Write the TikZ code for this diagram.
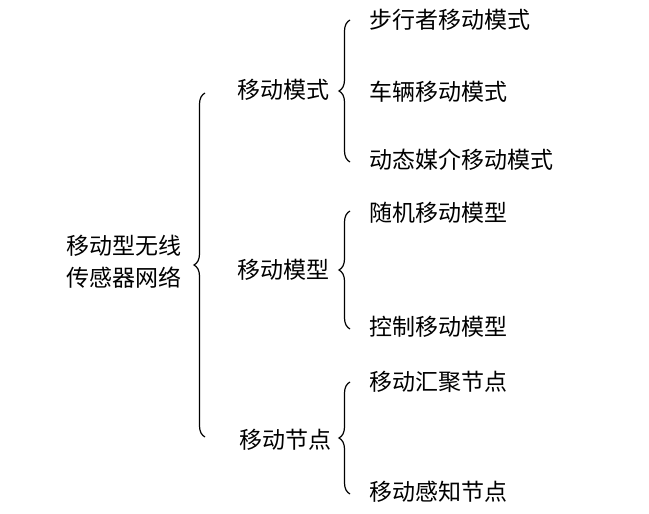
\documentclass[tikz,border=0pt]{standalone}
\usepackage{fontspec}
\setmainfont{Noto Sans CJK SC}
\usetikzlibrary{decorations.pathreplacing}
\begin{document}
\begin{tikzpicture}[x=0.5pt,y=-0.5pt,
  label/.style={font=\fontsize{11.5}{16}\selectfont, align=left, inner sep=1pt},
  leaf/.style={label, anchor=west},
  bracket/.style={decorate, decoration={brace, amplitude=5.5pt}, semithick}]
  \useasboundingbox (0,0) rectangle (649,514);
  % root
  \node [label] (root) at (124,262) {移动型无线\\传感器网络};
  % level 1
  \node [leaf] (mode) at (235,90) {移动模式};
  \node [leaf] (model) at (235,270) {移动模型};
  \node [leaf] (sensor) at (237,440) {移动节点};
  % leaves
  \node [leaf] (walk) at (367,20) {步行者移动模式};
  \node [leaf] (car) at (367,92) {车辆移动模式};
  \node [leaf] (media) at (367,160) {动态媒介移动模式};
  \node [leaf] (rand) at (367,213) {随机移动模型};
  \node [leaf] (ctrl) at (367,327) {控制移动模型};
  \node [leaf] (sink) at (367,382) {移动汇聚节点};
  \node [leaf] (sense) at (367,492) {移动感知节点};
  % braces
  \draw [bracket] (205,437) -- (205,93);
  \draw [bracket] (350,162) -- (350,20);
  \draw [bracket] (350,329) -- (350,211);
  \draw [bracket] (350,494) -- (350,382);
\end{tikzpicture}
\end{document}
